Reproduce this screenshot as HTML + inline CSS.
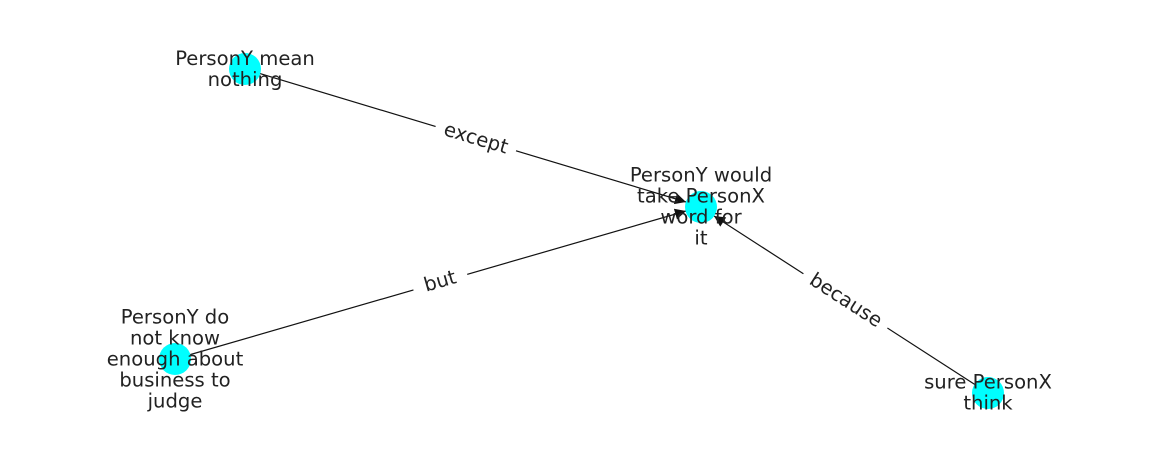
<!DOCTYPE html>
<html><head><meta charset="utf-8"><style>
html,body{margin:0;padding:0;background:#fff;}
svg{display:block;}
text{font-family:"DejaVu Sans","Liberation Sans",sans-serif;font-size:19.6px;fill:#222;}
</style></head><body>
<svg width="1162" height="462" viewBox="0 0 1162 462" xmlns="http://www.w3.org/2000/svg">
<defs>
<marker id="ah" viewBox="0 0 10 10" refX="10" refY="5" markerWidth="16" markerHeight="11" markerUnits="userSpaceOnUse" orient="auto">
<path d="M0,0 L10,5 L0,10 z" fill="#111"/>
</marker>
</defs>
<g stroke="#111" stroke-width="1.2" fill="none">
<line x1="245" y1="69" x2="686" y2="202" marker-end="url(#ah)"/>
<line x1="175" y1="359" x2="686" y2="211" marker-end="url(#ah)"/>
<line x1="988" y1="393" x2="714" y2="216" marker-end="url(#ah)"/>
</g>
<g fill="#00ffff">
<circle cx="245" cy="69" r="16"/>
<circle cx="701" cy="207" r="16"/>
<circle cx="175" cy="359" r="16"/>
<circle cx="988" cy="393" r="16"/>
</g>
<g text-anchor="middle" dominant-baseline="central">
<g transform="translate(476,138) rotate(16.8)"><rect x="-42" y="-13" width="84" height="26" fill="#fff"/><text x="0" y="0">except</text></g>
<g transform="translate(440,281) rotate(-16.1)"><rect x="-28" y="-13" width="56" height="26" fill="#fff"/><text x="0" y="0">but</text></g>
<g transform="translate(846,300) rotate(33)"><rect x="-50" y="-13" width="100" height="26" fill="#fff"/><text x="0" y="0">because</text></g>

<text x="245" y="58.5">PersonY mean</text>
<text x="245" y="79.5">nothing</text>

<text x="701" y="175">PersonY would</text>
<text x="701" y="196">take PersonX</text>
<text x="701" y="217">word for</text>
<text x="701" y="238">it</text>

<text x="175" y="317">PersonY do</text>
<text x="175" y="338">not know</text>
<text x="175" y="359">enough about</text>
<text x="175" y="380">business to</text>
<text x="175" y="401">judge</text>

<text x="988" y="382">sure PersonX</text>
<text x="988" y="403">think</text>
</g>
</svg>
</body></html>
